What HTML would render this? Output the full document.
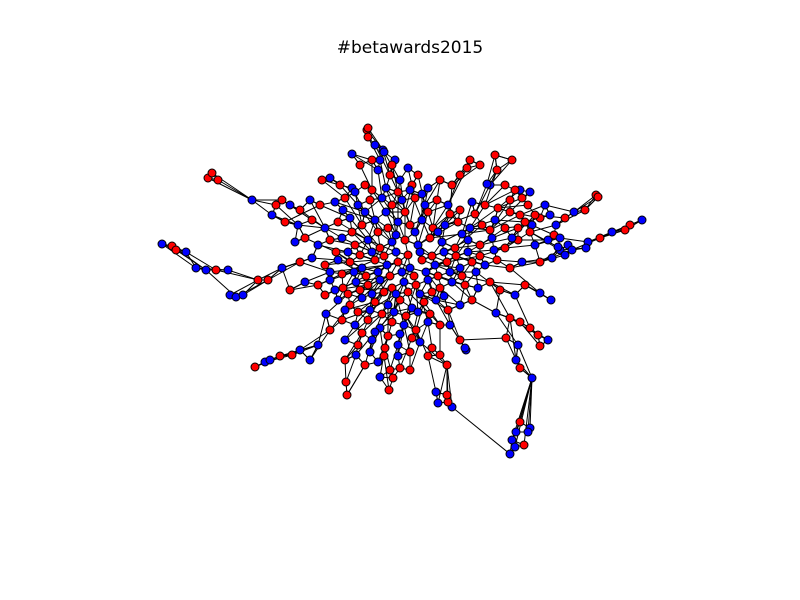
<!DOCTYPE html>
<html><head><meta charset="utf-8"><style>
html,body{margin:0;padding:0;background:#fff;}
svg{display:block;}
</style></head><body>
<svg id="chart" width="800" height="600">
<rect width="800" height="600" fill="#fff"/>
<text x="410" y="53" text-anchor="middle" font-family="DejaVu Sans, Liberation Sans, sans-serif" font-size="17" fill="#000">#betawards2015</text>
<g id="edges"></g>
<g id="nodes"></g>
</svg>
<script>
// node layout positions (layout units) and group: r = red, b = blue
const nodeData = [
[367,130,'r'],[368,137,'r'],[368,128,'r'],[383,150,'b'],
[352,154,'b'],[384,152,'b'],[395,160,'b'],[372,160,'r'],[408,168,'b'],[418,175,'r'],
[360,165,'r'],[378,170,'b'],[390,175,'r'],[400,180,'b'],[412,185,'r'],[428,188,'b'],[440,180,'r'],[452,185,'r'],[460,175,'r'],[467,168,'r'],[470,160,'r'],[480,165,'r'],[495,155,'r'],[497,170,'r'],[490,185,'b'],[505,185,'r'],[512,160,'r'],[520,190,'b'],[530,192,'b'],[322,180,'r'],[330,178,'b'],[340,185,'r'],[352,188,'b'],[365,185,'r'],
[282,200,'r'],[290,205,'b'],[300,210,'r'],[310,200,'b'],[320,205,'r'],[335,202,'b'],[345,198,'r'],[358,205,'b'],[370,200,'r'],[382,198,'b'],[392,205,'r'],[402,200,'b'],[415,198,'r'],[425,205,'b'],[437,200,'r'],[448,205,'b'],[460,210,'r'],[472,202,'b'],[485,205,'r'],[498,208,'r'],[510,212,'r'],[520,215,'r'],[528,205,'r'],[540,218,'r'],[550,215,'b'],[556,225,'b'],
[272,215,'b'],[285,222,'r'],[298,225,'b'],[312,220,'r'],[325,228,'b'],[338,222,'r'],[350,218,'b'],[362,225,'r'],[375,220,'b'],[388,228,'r'],[398,222,'b'],[410,225,'r'],[422,220,'b'],[433,228,'r'],[445,225,'b'],[458,222,'r'],[470,228,'b'],[482,225,'r'],[495,220,'b'],[505,228,'r'],[518,228,'r'],[532,225,'b'],
[295,242,'b'],[305,238,'r'],[318,245,'b'],[330,240,'r'],[342,238,'b'],[355,245,'r'],[368,240,'b'],[380,248,'r'],[392,242,'b'],[405,240,'r'],[418,245,'b'],[430,238,'r'],[442,242,'b'],[455,248,'r'],[468,240,'b'],[480,245,'r'],[492,238,'b'],[505,248,'r'],[518,240,'r'],[535,245,'b'],[548,240,'b'],[560,250,'b'],[568,245,'b'],[552,258,'b'],
[300,262,'r'],[312,258,'b'],[325,265,'r'],[338,260,'b'],[350,262,'r'],[362,268,'b'],[375,260,'r'],[387,265,'b'],[398,262,'r'],[410,268,'b'],[422,260,'r'],[435,265,'b'],[447,262,'r'],[460,268,'b'],[472,262,'r'],[485,265,'b'],[497,260,'r'],[510,268,'r'],[522,262,'b'],[540,262,'r'],[572,250,'b'],
[290,290,'r'],[305,282,'b'],[318,285,'r'],[330,280,'b'],[343,288,'r'],[356,282,'b'],[368,285,'r'],[380,280,'b'],[392,288,'r'],[404,282,'b'],[416,285,'r'],[428,280,'b'],[440,288,'r'],[452,282,'b'],[465,285,'r'],[478,288,'b'],[490,282,'r'],[500,290,'r'],[515,295,'b'],[525,285,'r'],
[325,295,'r'],[338,300,'b'],[350,305,'r'],[362,298,'b'],[375,302,'r'],[388,305,'b'],[400,300,'r'],[412,308,'b'],[424,302,'r'],[436,300,'b'],[448,310,'r'],[460,305,'b'],[472,300,'r'],[496,313,'b'],[510,318,'r'],
[326,314,'b'],[342,320,'r'],[355,325,'b'],[368,320,'r'],[380,328,'b'],[392,322,'r'],[404,325,'b'],[416,330,'r'],[428,322,'b'],[440,325,'r'],[450,325,'b'],[520,322,'r'],[530,328,'r'],[538,335,'r'],[540,346,'r'],[548,340,'b'],
[345,340,'b'],[358,345,'r'],[372,340,'b'],[385,348,'r'],[398,345,'b'],[410,352,'r'],[420,342,'b'],[432,348,'r'],[460,340,'r'],[466,350,'b'],
[345,360,'r'],[356,355,'b'],[365,365,'r'],[378,362,'b'],[390,370,'r'],[400,368,'r'],[410,370,'r'],[380,377,'b'],[393,378,'r'],[428,356,'r'],[440,355,'r'],[447,365,'r'],[346,382,'r'],[347,395,'r'],[389,390,'r'],
[162,244,'b'],[172,246,'r'],[176,250,'r'],[186,252,'b'],[196,268,'b'],[206,270,'b'],[216,270,'r'],[228,270,'b'],[208,178,'r'],[212,173,'r'],[218,180,'r'],[252,200,'b'],[230,295,'b'],[236,297,'b'],[243,295,'b'],[258,280,'r'],[268,280,'r'],[282,268,'b'],[255,367,'r'],[265,362,'b'],[270,360,'b'],[280,356,'r'],[292,355,'r'],[300,350,'b'],[310,360,'b'],[318,345,'b'],[330,330,'r'],[276,205,'r'],
[642,220,'b'],[630,225,'r'],[625,230,'r'],[612,232,'b'],[600,238,'r'],[588,242,'b'],[586,248,'b'],[596,195,'r'],[598,197,'r'],[585,210,'r'],[574,212,'b'],[565,218,'r'],[554,235,'r'],[540,293,'b'],[551,300,'b'],[512,238,'b'],[516,360,'b'],[520,368,'r'],[532,378,'b'],
[520,422,'r'],[530,428,'b'],[516,432,'b'],[512,440,'b'],[515,447,'b'],[524,445,'r'],[510,454,'b'],[528,432,'b'],[487,184,'b'],
[436,392,'b'],[438,403,'b'],[452,407,'b'],[448,402,'r'],[447,395,'r'],[465,348,'b'],[506,338,'r'],[518,345,'b'],[515,190,'r'],[535,215,'r'],[545,205,'b'],
[343,210,'b'],[352,232,'r'],[365,212,'b'],[378,232,'r'],[386,212,'b'],[396,235,'b'],[405,212,'r'],[415,232,'b'],[428,212,'r'],[438,232,'b'],[450,214,'r'],[462,234,'b'],[475,214,'r'],[490,230,'r'],
[336,252,'r'],[348,252,'b'],[360,255,'r'],[372,252,'b'],[384,256,'r'],[396,252,'b'],[408,255,'r'],[420,252,'b'],[432,256,'r'],[444,252,'b'],[456,256,'r'],[468,252,'b'],[480,256,'r'],[494,250,'b'],
[330,272,'b'],[342,274,'r'],[354,272,'b'],[366,276,'r'],[378,272,'b'],[390,276,'r'],[402,272,'b'],[414,276,'r'],[426,272,'b'],[438,276,'r'],[450,272,'b'],[462,276,'r'],[476,272,'b'],
[335,290,'b'],[348,294,'r'],[360,290,'r'],[372,294,'b'],[384,292,'r'],[396,294,'b'],[408,292,'r'],[420,294,'b'],[432,292,'r'],[444,296,'b'],
[345,310,'b'],[358,312,'r'],[370,310,'b'],[382,314,'r'],[394,312,'b'],[406,316,'r'],[418,312,'b'],[430,314,'r'],
[355,192,'b'],[372,190,'r'],[386,188,'b'],[398,192,'r'],[410,190,'b'],[422,194,'b'],[380,160,'b'],[392,165,'r'],[375,145,'b'],
[362,333,'r'],[375,332,'b'],[388,336,'r'],[400,334,'b'],[412,338,'r'],[370,352,'b'],[384,356,'r'],[398,356,'b'],
[510,200,'r'],[522,198,'r'],[525,222,'r'],[530,232,'r'],[560,238,'b'],[565,255,'b'],[558,247,'b']
];
const xDomain = [0, 800];
const yDomain = [0, 600];
const xScale = v => (v - xDomain[0]) / (xDomain[1] - xDomain[0]) * 800;
const yScale = v => (v - yDomain[0]) / (yDomain[1] - yDomain[0]) * 600;
const colorMap = { r: '#ff0000', b: '#0000ff' };
const hubX = 410, hubY = 260;

const NS = 'http://www.w3.org/2000/svg';
const eg = document.getElementById('edges');
const ng = document.getElementById('nodes');
const pts = nodeData.map(d => ({ x: xScale(d[0]), y: yScale(d[1]), c: d[2] }));

function addEdge(a, b) {
  const l = document.createElementNS(NS, 'line');
  l.setAttribute('x1', a.x); l.setAttribute('y1', a.y);
  l.setAttribute('x2', b.x); l.setAttribute('y2', b.y);
  l.setAttribute('stroke', '#000'); l.setAttribute('stroke-width', '1');
  
  
  eg.appendChild(l);
}
const hub = { x: xScale(hubX), y: yScale(hubY) };
const distHub = p => Math.hypot(p.x - hub.x, p.y - hub.y);
pts.forEach((p, i) => {
  const ds = pts.map((q, j) => ({ j, d: (q.x - p.x) ** 2 + (q.y - p.y) ** 2 }))
    .filter(o => o.j !== i).sort((a, b) => a.d - b.d);
  addEdge(p, pts[ds[0].j]);
  addEdge(p, pts[ds[1].j]);
  const far = distHub(p);
  if (far > 45) {
    // link inward: nearest node noticeably closer to the centre
    const inner = ds.find(o => distHub(pts[o.j]) < far - 25);
    if (inner) addEdge(p, pts[inner.j]);
  }
  if (far <= 70) {
    addEdge(p, pts[ds[3].j]);
    if (i % 2 === 0) addEdge(p, pts[ds[6].j]);
  }
});
pts.forEach(p => {
  const c = document.createElementNS(NS, 'circle');
  c.setAttribute('cx', p.x); c.setAttribute('cy', p.y); c.setAttribute('r', 4);
  c.setAttribute('fill', colorMap[p.c]); c.setAttribute('stroke', '#000'); c.setAttribute('stroke-width', '1');
  
  
  ng.appendChild(c);
});
</script>
</body></html>
